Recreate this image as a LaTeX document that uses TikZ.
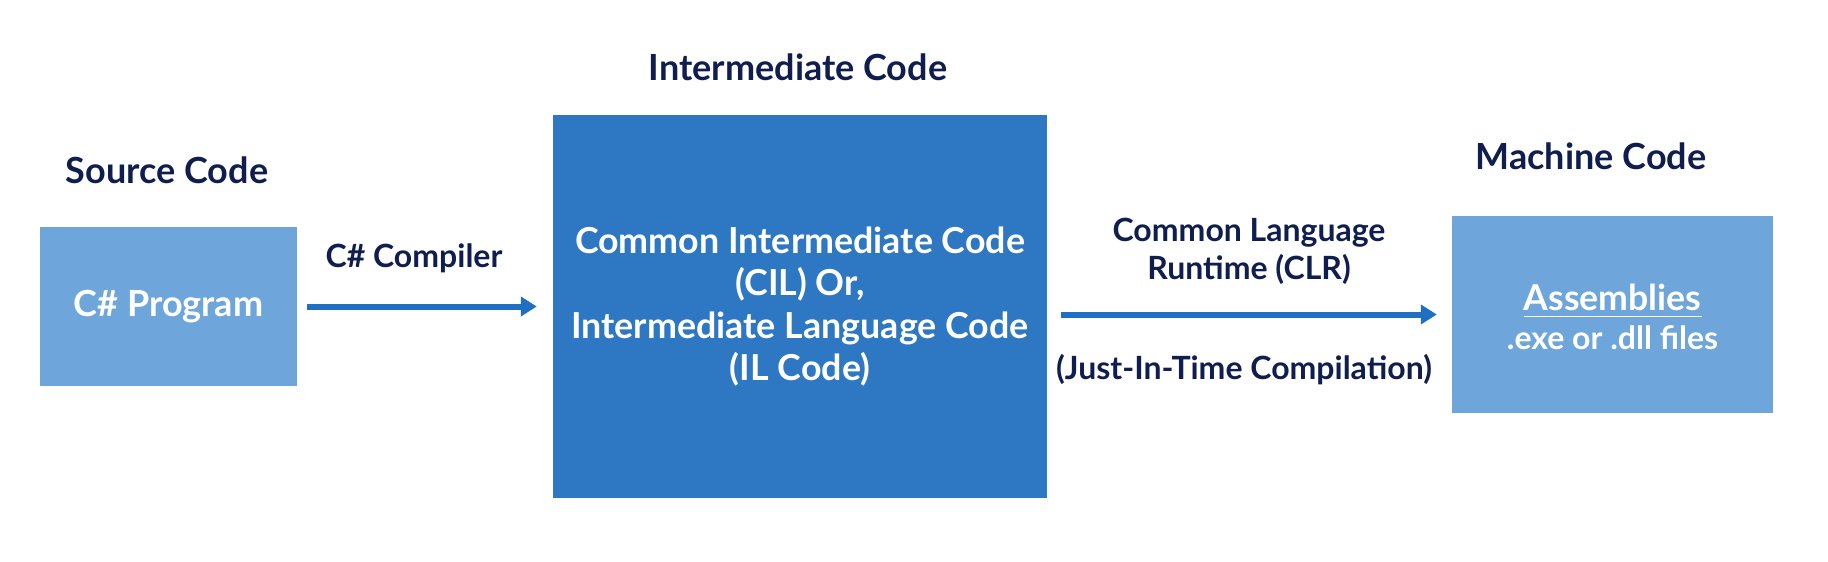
\documentclass[tikz,border=0pt]{standalone}
\usepackage{fontspec}
\setmainfont{Lato}
\usetikzlibrary{arrows.meta,calc}
\definecolor{navy}{HTML}{0F1E4E}
\definecolor{darkbox}{HTML}{2E77C2}
\definecolor{lightbox}{HTML}{6EA6DC}
\definecolor{arrowblue}{HTML}{1F6FC2}
\tikzset{
  heading/.style={font=\bfseries\fontsize{36}{40}\selectfont, text=navy, inner sep=0pt},
  label/.style={font=\bfseries\fontsize{32}{38}\selectfont, text=navy, inner sep=0pt, align=center},
  lightbox/.style={fill=lightbox, draw=none, inner sep=0pt, text=white, align=center},
  darkbox/.style={fill=darkbox, draw=none, inner sep=0pt, text=white, align=center},
  flow/.style={draw=arrowblue, line width=6pt, -{Triangle[length=16pt,width=19pt]}}
}
\begin{document}
\begin{tikzpicture}[x=1pt,y=-1pt]
\useasboundingbox (0,0) rectangle (1828,562);
\node[lightbox, minimum width=257pt, minimum height=159pt, font=\bfseries\fontsize{36}{40}\selectfont] (src) at (168.5,306.5) {C\# Program};
\node[darkbox, minimum width=494pt, minimum height=383pt, font=\bfseries\fontsize{35.8}{42.3}\selectfont] (mid) at (800,306.5) {Common Intermediate Code\\(CIL) Or,\\Intermediate Language Code\\(IL Code)};
\node[lightbox, minimum width=321pt, minimum height=197pt] (dst) at (1612.5,314.5) {};
\node[font=\bfseries\fontsize{35.6}{40}\selectfont, text=white, inner sep=0pt] (asm) at (1612.5,297) {Assemblies};
\node[font=\bfseries\fontsize{32}{36}\selectfont, text=white, inner sep=0pt] (files) at (1612.5,338) {.exe or .dll files};
\draw[white, line width=1.5pt] ($(asm.south west)+(0,6)$) coordinate (ul1) -- ($(asm.south east)+(0,6)$) coordinate (ul2);

\node[heading] (h1) at (167,170) {Source Code};
\node[heading] (h2) at (798,67) {Intermediate Code};
\node[heading] (h3) at (1591,156) {Machine Code};

\node[label] (l1) at (414,258) {C\# Compiler};
\node[label] (l2) at (1249,251) {Common Language\\Runtime (CLR)};
\node[label] (l3) at (1244,370) {(Just-In-Time Compilation)};

\draw[flow, shorten <=10pt, shorten >=16pt] (src.east) -- (mid.west |- src.east);
\draw[flow, shorten <=14pt, shorten >=15pt] (mid.east |- dst.west) -- (dst.west);
\end{tikzpicture}
\end{document}
